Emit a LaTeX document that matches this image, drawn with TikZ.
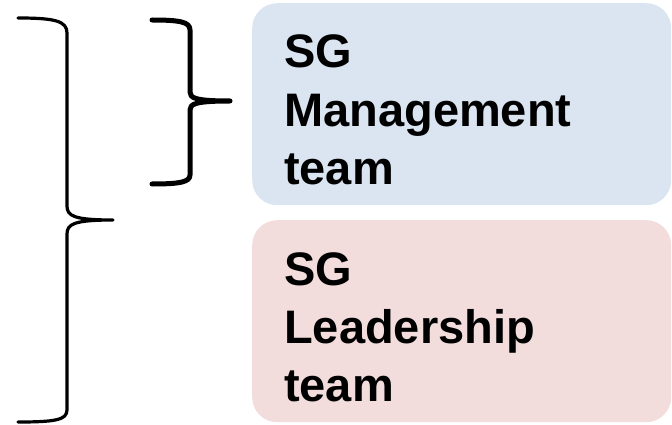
\documentclass[tikz,border=0pt]{standalone}
\usepackage{fontspec}
\setmainfont{Liberation Sans}
\usetikzlibrary{positioning}
\definecolor{bleuclair}{HTML}{DBE4F1}
\definecolor{roseclair}{HTML}{F2DCDC}
\tikzset{
    boite/.style={rounded corners=25pt, minimum width=419pt, minimum height=202pt, inner sep=0pt, anchor=north west},
    texte/.style={font=\fontsize{47}{58}\selectfont\bfseries, align=left, anchor=base west, inner sep=0pt},
    accolade/.style={line width=#1, line cap=round, line join=round},
  }
\begin{document}
\begin{tikzpicture}[x=1pt,y=-1pt]
				  \useasboundingbox (0,0) rectangle (672,425);
				  %BOITES
				  \node[boite, fill=bleuclair] (mgmt) at (252,3) {};
				  \node[boite, fill=roseclair] (lead) at (252,220) {};
				  %TEXTES (base = derniere ligne)
				  \node[texte] (mgmttxt) at (284,184) {SG\\Management\\team};
				  \node[texte] (leadtxt) at (284,401) {SG\\Leadership\\team};
				  %Grande accolade
				  \coordinate (Ghaut) at (18,18);
				  \coordinate (Gpointe) at (113,220);
				  \coordinate (Gbas) at (18,422);
				  \draw[accolade=3.2pt] (Ghaut) .. controls (55,18) and (67,21) .. (67,33) -- (67,206)
				        .. controls (67,216) and (74,220) .. (Gpointe)
				        .. controls (74,220) and (67,224) .. (67,234) -- (67,410)
				        .. controls (67,420) and (55,422) .. (Gbas);
				  %Petite accolade
				  \coordinate (Phaut) at (152,20);
				  \coordinate (Ppointe) at (230,101);
				  \coordinate (Pbas) at (152,184);
				  \draw[accolade=5pt] (Phaut) .. controls (180,20) and (190,22) .. (190,30) -- (190,92)
				        .. controls (190,98) and (195,101) .. (Ppointe)
				        .. controls (195,101) and (190,104) .. (190,110) -- (190,175)
				        .. controls (190,182) and (180,184) .. (Pbas);
\end{tikzpicture}
\end{document}
